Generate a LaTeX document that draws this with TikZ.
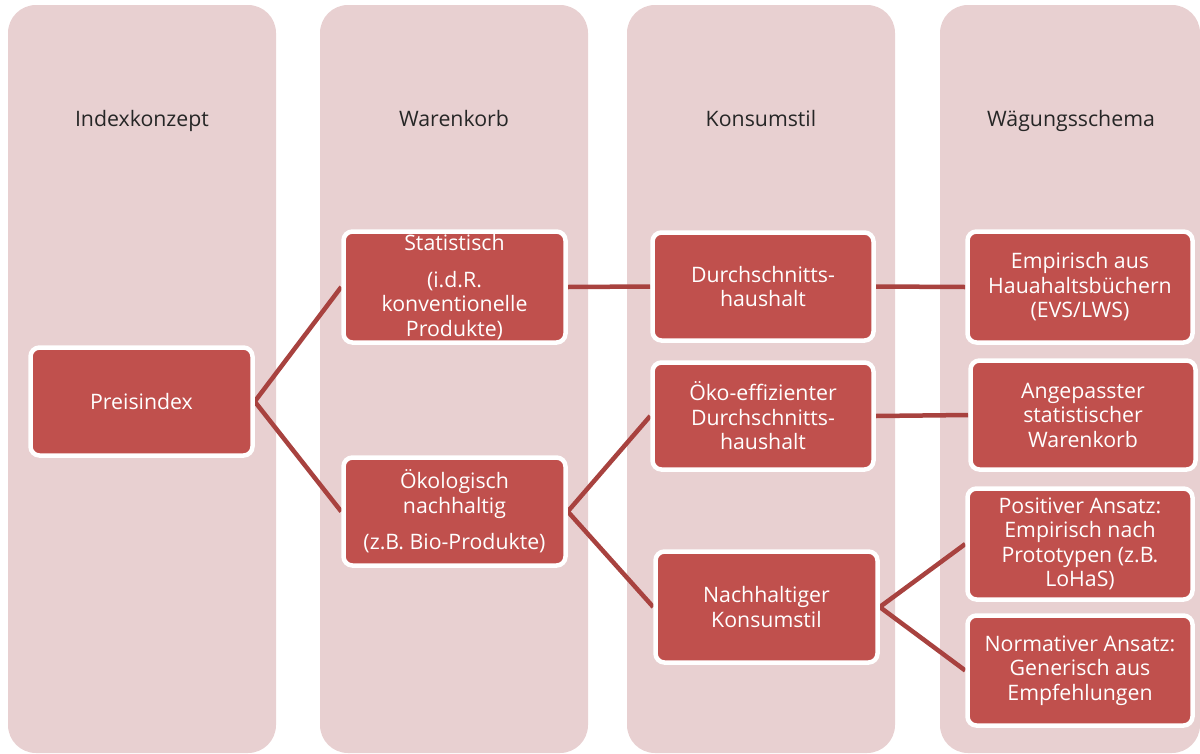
\documentclass[tikz,border=0pt]{standalone}
\usepackage{fontspec}
\setmainfont{Open Sans}
\definecolor{colbg}{HTML}{E8D0D1}
\definecolor{boxfill}{HTML}{C0504D}
\definecolor{linkc}{HTML}{A8423F}
\definecolor{headc}{HTML}{262626}
\pgfdeclarelayer{links}
\pgfsetlayers{links,main}
\tikzset{
  colbox/.style={fill=colbg, draw=none, rounded corners=28pt},
  head/.style={anchor=base, text=headc, font=\fontsize{21.3}{24}\selectfont},
  rbox/.style={draw=white, line width=4.5pt, fill=boxfill, rounded corners=9pt,
    text=white, align=center, inner sep=0pt,
    font=\fontsize{21.3}{24.5}\selectfont},
  link/.style={draw=linkc, line width=4.5pt}
}
\begin{document}
\begin{tikzpicture}[x=1pt,y=-1pt]
\useasboundingbox (0,0) rectangle (1200,753);
% columns
\begin{pgfonlayer}{links}
\path[colbox] (8,5) rectangle (276,753);
\path[colbox] (320,5) rectangle (588,753);
\path[colbox] (627,5) rectangle (895,753);
\path[colbox] (940,5) rectangle (1200,753);
\end{pgfonlayer}
% headers
\node[head] (h1) at (142,126) {Indexkonzept};
\node[head] (h2) at (454,126) {Warenkorb};
\node[head] (h3) at (761,126) {Konsumstil};
\node[head] (h4) at (1071,126) {Wägungsschema};
% boxes
\node[rbox, minimum width=222pt, minimum height=108pt] (pre) at (141.5,401.5) {Preisindex};
\node[rbox, minimum width=222pt, minimum height=111pt] (stat) at (454.5,287) {Statistisch\\[12pt](i.d.R.\\konventionelle\\Produkte)};
\node[rbox, minimum width=222pt, minimum height=108pt] (oeko) at (454.5,511.5) {Ökologisch\\nachhaltig\\[12pt](z.B. Bio-Produkte)};
\node[rbox, minimum width=221pt, minimum height=108pt] (durch) at (763,286.5) {Durchschnitts-\\haushalt};
\node[rbox, minimum width=221pt, minimum height=107pt] (oeff) at (763,416) {Öko-effizienter\\Durchschnitts-\\haushalt};
\node[rbox, minimum width=222pt, minimum height=111pt] (nach) at (766.5,607) {Nachhaltiger\\Konsumstil};
\node[rbox, minimum width=225pt, minimum height=111pt] (emp) at (1080,287) {Empirisch aus\\Hauahaltsbüchern\\(EVS/LWS)};
\node[rbox, minimum width=225pt, minimum height=109pt] (ang) at (1083,415) {Angepasster\\statistischer\\Warenkorb};
\node[rbox, minimum width=225pt, minimum height=111pt] (pos) at (1080,544) {Positiver Ansatz:\\Empirisch nach\\Prototypen (z.B.\\LoHaS)};
\node[rbox, minimum width=225pt, minimum height=110pt] (norm) at (1080,670.5) {Normativer Ansatz:\\Generisch aus\\Empfehlungen};
% connectors (behind boxes)
\begin{pgfonlayer}{links}
\draw[link] (pre.east) -- (stat.west);
\draw[link] (pre.east) -- (oeko.west);
\draw[link] (stat.east) -- (durch.west);
\draw[link] (durch.east) -- (emp.west);
\draw[link] (oeko.east) -- (oeff.west);
\draw[link] (oeko.east) -- (nach.west);
\draw[link] (oeff.east) -- (ang.west);
\draw[link] (nach.east) -- (pos.west);
\draw[link] (nach.east) -- (norm.west);
\end{pgfonlayer}
\end{tikzpicture}
\end{document}
